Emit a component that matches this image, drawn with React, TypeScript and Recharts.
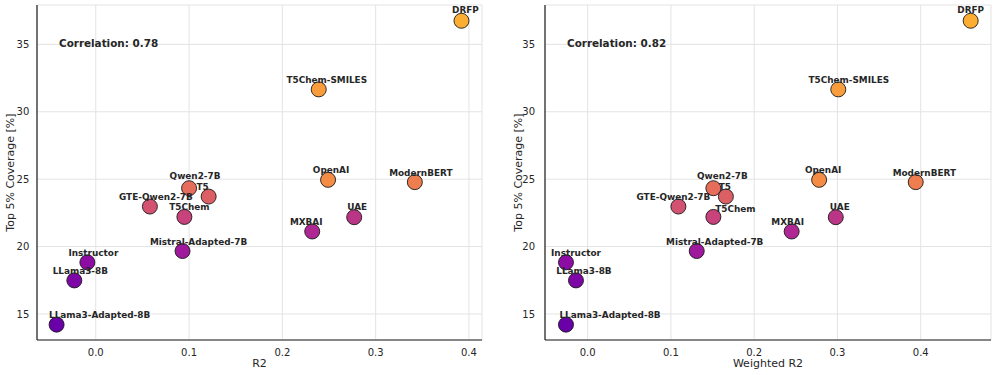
import { CartesianGrid, Label, Scatter, ScatterChart, XAxis, YAxis } from "recharts";

const models = [
  "DRFP",
  "T5Chem-SMILES",
  "OpenAI",
  "ModernBERT",
  "Qwen2-7B",
  "T5",
  "GTE-Qwen2-7B",
  "T5Chem",
  "UAE",
  "MXBAI",
  "Mistral-Adapted-7B",
  "Instructor",
  "LLama3-8B",
  "LLama3-Adapted-8B",
];
const r2 = [0.392, 0.239, 0.249, 0.342, 0.1, 0.121, 0.058, 0.095, 0.277, 0.232, 0.093, -0.009, -0.023, -0.042];
const weightedR2 = [0.46, 0.301, 0.278, 0.394, 0.151, 0.166, 0.109, 0.151, 0.298, 0.245, 0.131, -0.026, -0.014, -0.026];
const coverage = [36.75, 31.66, 24.95, 24.78, 24.33, 23.71, 22.97, 22.2, 22.18, 21.12, 19.67, 18.83, 17.49, 14.21];
const correlationR2 = "0.78";
const correlationWR2 = "0.82";
const xTicks = [0, 0.1, 0.2, 0.3, 0.4];
const yTicks = [15, 20, 25, 30, 35];

// label nudges (px), like adjustText moved them
const labelDxR2 = [4, 8, 3, 6, 6, -6, 6, 5, 3, -6, 16, 6, 6, 43];
const labelDxWR2 = [0, 10.5, 4, 8.6, 9, -1, -5, 22, 4, -4, 18, 10, 8, 44];
const labelDyR2 = [-11, -9.3, -10, -9.4, -12, -10, -10, -10, -10, -10, -9, -10, -10, -10];
const labelDyWR2 = [-11, -9.3, -10, -9.4, -12, -10, -10, -8, -10, -10, -9, -10, -10, -10];

const FONT = "DejaVu Sans, sans-serif";
const TEXT = "#262626";
const PLASMA = ["#0d0887", "#41049d", "#6a00a8", "#8f0da4", "#b12a90", "#cc4778", "#e16462", "#f2844b", "#fca636", "#fcce25", "#f0f921"];

const hex = (c: string) => [1, 3, 5].map((i) => parseInt(c.slice(i, i + 2), 16));
const plasma = (t: number) => {
  const p = Math.min(Math.max(t, 0), 1) * (PLASMA.length - 1);
  const i = Math.min(Math.floor(p), PLASMA.length - 2);
  const f = p - i;
  const a = hex(PLASMA[i]);
  const b = hex(PLASMA[i + 1]);
  return `rgb(${a.map((v, k) => Math.round(v + (b[k] - v) * f)).join(",")})`;
};

const order = coverage.map((_, i) => i).sort((a, b) => coverage[a] - coverage[b]);
const colors = models.map((_, i) => plasma(0.2 + (0.62 * order.indexOf(i)) / (models.length - 1)));

const buildRows = (xs: number[], dx: number[], dy: number[]) =>
  models.map((name, i) => ({ name, x: xs[i], y: coverage[i], color: colors[i], dx: dx[i], dy: dy[i] }));

const dot = (props: any) => (
  <circle cx={props.cx} cy={props.cy} r={7.5} fill={props.payload.color} stroke="#1a1a1a" strokeWidth={0.9} />
);

const tag = (props: any) => (
  <text
    x={props.cx + props.payload.dx}
    y={props.cy + props.payload.dy + 3.2}
    textAnchor="middle"
    fontFamily={FONT}
    fontWeight="bold"
    fontSize={8.9}
    fill={TEXT}
  >
    {props.payload.name}
  </text>
);

const yTitle = (x: number) => (props: any) => {
  const vb = props.viewBox;
  const cy = vb.y + vb.height / 2;
  return (
    <text x={x} y={cy} transform={`rotate(-90, ${x}, ${cy})`} textAnchor="middle" dominantBaseline="central" fontFamily={FONT} fontSize={11} fill={TEXT}>
      Top 5% Coverage [%]
    </text>
  );
};

const xTitle = (value: string) => (props: any) => {
  const vb = props.viewBox;
  return (
    <text x={vb.x + vb.width / 2} y={vb.y + 26.5} textAnchor="middle" fontFamily={FONT} fontSize={11} fill={TEXT}>
      {value}
    </text>
  );
};

interface PanelProps {
  xs: number[];
  dx: number[];
  dy: number[];
  xDomain: [number, number];
  xLabel: string;
  corr: string;
  left: number;
  width: number;
  yAxisWidth: number;
  rightMargin: number;
  tickGap: number;
  yTitleX: number;
}

const Panel = ({ xs, dx, dy, xDomain, xLabel, corr, left, width, yAxisWidth, rightMargin, tickGap, yTitleX }: PanelProps) => {
  const rows = buildRows(xs, dx, dy);
  const tickStyle = { fontFamily: FONT, fontSize: 10, fill: TEXT };
  const frame = { stroke: "#1f1f1f", strokeWidth: 1.2 };
  return (
    <div style={{ position: "absolute", left, top: 0, width, height: 375 }}>
      <ScatterChart width={width} height={375} margin={{ top: 5, right: rightMargin, bottom: 5, left: 0 }}>
        <CartesianGrid stroke="#e3e3e3" strokeWidth={1} />
        <XAxis
          type="number"
          dataKey="x"
          domain={xDomain}
          ticks={xTicks}
          allowDataOverflow
          tickFormatter={(v: number) => v.toFixed(1)}
          tick={tickStyle}
          tickLine={false}
          tickSize={0}
          tickMargin={8.5}
          axisLine={frame}
          height={30}
        >
          <Label content={xTitle(xLabel)} />
        </XAxis>
        <XAxis xAxisId="top" orientation="top" type="number" domain={xDomain} tick={false} tickLine={false} axisLine={frame} height={0} />
        <YAxis
          type="number"
          dataKey="y"
          domain={[13.07, 37.92]}
          ticks={yTicks}
          allowDataOverflow
          tick={tickStyle}
          tickLine={false}
          tickSize={0}
          tickMargin={tickGap}
          axisLine={frame}
          width={yAxisWidth}
        >
          <Label content={yTitle(yTitleX)} />
        </YAxis>
        <YAxis yAxisId="right" orientation="right" type="number" domain={[13.07, 37.92]} tick={false} tickLine={false} axisLine={frame} width={0} />
        <Scatter data={rows} shape={dot} isAnimationActive={false} />
        <Scatter data={rows} shape={tag} isAnimationActive={false} />
      </ScatterChart>
      <div
        style={{
          position: "absolute",
          left: yAxisWidth + 22,
          top: 37,
          fontFamily: FONT,
          fontWeight: "bold",
          fontSize: 10.4,
          lineHeight: "12px",
          color: TEXT,
          whiteSpace: "nowrap",
        }}
      >
        Correlation: {corr}
      </div>
    </div>
  );
};

export default function App() {
  return (
    <div style={{ position: "absolute", left: 0, top: 0, width: 997, height: 375, background: "#fff" }}>
      <Panel xs={r2} dx={labelDxR2} dy={labelDyR2} xDomain={[-0.063, 0.414]} xLabel="R2" corr={correlationR2} left={0} width={500} yAxisWidth={37} rightMargin={18} tickGap={7.7} yTitleX={10} />
      <Panel xs={weightedR2} dx={labelDxWR2} dy={labelDyWR2} xDomain={[-0.0512, 0.4844]} xLabel="Weighted R2" corr={correlationWR2} left={500} width={497} yAxisWidth={45} rightMargin={6} tickGap={10} yTitleX={18} />
    </div>
  );
}
